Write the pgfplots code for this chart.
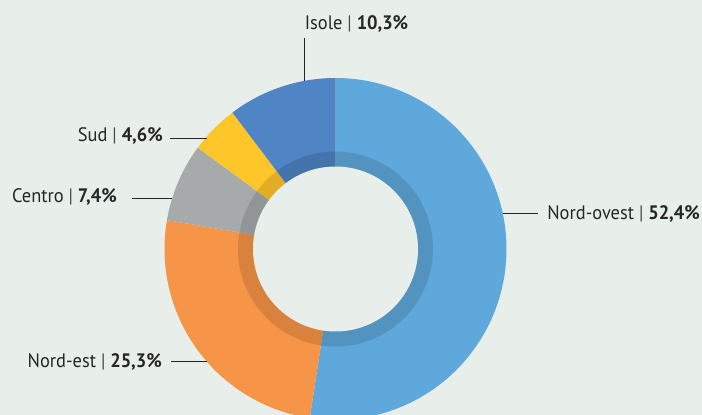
\documentclass[border=0pt]{standalone}
\usepackage{pgfplots}
\pgfplotsset{compat=1.18}
\usepackage{fontspec}
\setmainfont[FakeStretch=0.945]{PT Sans}
\definecolor{bg}{HTML}{E8EFEB}
\definecolor{cNO}{HTML}{5FA8DB}
\definecolor{cNE}{HTML}{F69447}
\definecolor{cCE}{HTML}{A7AAAB}
\definecolor{cSU}{HTML}{FFC629}
\definecolor{cIS}{HTML}{4F85C4}
\definecolor{txt}{HTML}{262626}
% shares (percent)
\def\pNO{52.4}
\def\pNE{25.3}
\def\pCE{7.4}
\def\pSU{4.6}
\def\pIS{10.3}
\def\cx{335.5}
\def\cy{166}
\def\Ro{171}
\def\Rb{97.5}
\def\Ri{82.5}
\tikzset{lbl/.style={font=\fontsize{19.5}{23}\selectfont, text=txt, inner sep=0pt}}
\begin{document}
\begin{tikzpicture}
\begin{axis}[width=702pt, height=415pt, scale only axis,
  xmin=0, xmax=702, ymin=0, ymax=415, hide axis, clip=true]
\addplot[fill=bg, draw=none] coordinates {(0,0) (702,0) (702,415) (0,415)} -- cycle;
% wedges, clockwise from top
\pgfmathsetmacro{\aA}{90}
\pgfmathsetmacro{\aB}{90-3.6*\pNO}
\pgfmathsetmacro{\aC}{90-3.6*(\pNO+\pNE)}
\pgfmathsetmacro{\aD}{90-3.6*(\pNO+\pNE+\pCE)}
\pgfmathsetmacro{\aE}{90-3.6*(\pNO+\pNE+\pCE+\pSU)}
\pgfmathsetmacro{\aF}{90-3.6*(\pNO+\pNE+\pCE+\pSU+\pIS)}
\addplot[fill=cNO, draw=none, domain=\aB:\aA, samples=150] ({\cx+\Ro*cos(x)},{\cy+\Ro*sin(x)}) -- (\cx,\cy) -- cycle;
\addplot[fill=cNE, draw=none, domain=\aC:\aB, samples=80] ({\cx+\Ro*cos(x)},{\cy+\Ro*sin(x)}) -- (\cx,\cy) -- cycle;
\addplot[fill=cCE, draw=none, domain=\aD:\aC, samples=30] ({\cx+\Ro*cos(x)},{\cy+\Ro*sin(x)}) -- (\cx,\cy) -- cycle;
\addplot[fill=cSU, draw=none, domain=\aE:\aD, samples=30] ({\cx+\Ro*cos(x)},{\cy+\Ro*sin(x)}) -- (\cx,\cy) -- cycle;
\addplot[fill=cIS, draw=none, domain=\aF:\aE, samples=40] ({\cx+\Ro*cos(x)},{\cy+\Ro*sin(x)}) -- (\cx,\cy) -- cycle;
% darker inner band and hole
\addplot[fill=black, fill opacity=0.12, draw=none, domain=0:360, samples=180] ({\cx+\Rb*cos(x)},{\cy+\Rb*sin(x)}) -- cycle;
\addplot[fill=bg, draw=none, domain=0:360, samples=180] ({\cx+\Ri*cos(x)},{\cy+\Ri*sin(x)}) -- cycle;
% leader lines
\addplot[txt, line width=0.9pt] coordinates {(304,377) (304,334)};
\addplot[txt, line width=0.9pt] coordinates {(170,276.7) (207,276.7)};
\addplot[txt, line width=0.9pt] coordinates {(132,216.7) (172,216.7)};
\addplot[txt, line width=0.9pt] coordinates {(503,201.7) (538,201.7)};
\addplot[txt, line width=0.9pt] coordinates {(171,53.3) (207,53.3)};
% labels
\node[lbl, anchor=base] at (356.5,385) {Isole \textcolor{txt!85}{|} \textbf{10,3\%}};
\node[lbl, anchor=base east] at (163,273) {Sud \textcolor{txt!85}{|} \textbf{4,6\%}};
\node[lbl, anchor=base east] at (117,212) {Centro \textcolor{txt!85}{|} \textbf{7,4\%}};
\node[lbl, anchor=base east] at (700,195) {Nord-ovest \textcolor{txt!85}{|} \textbf{52,4\%}};
\node[lbl, anchor=base east] at (162,47) {Nord-est \textcolor{txt!85}{|} \textbf{25,3\%}};
\end{axis}
\end{tikzpicture}
\end{document}
